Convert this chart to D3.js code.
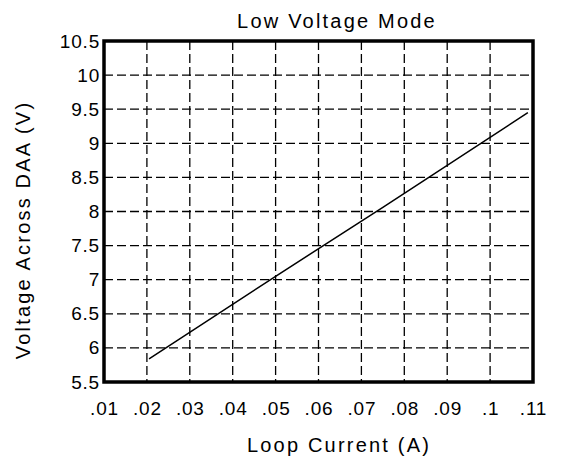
<!DOCTYPE html>
<html>
<head>
<meta charset="utf-8">
<script src="https://cdn.jsdelivr.net/npm/d3@7"></script>
<style>
  body { margin: 0; background: #fff; }
  svg text { font-family: "Liberation Sans", Arial, sans-serif; fill: #000; }
</style>
</head>
<body>
<div id="chart"></div>
<script>
  // data
  var currents = [0.0205, 0.05, 0.075, 0.1088];
  var voltages = [5.84, 7.05, 8.06, 9.45];
  var xTicks = [0.01, 0.02, 0.03, 0.04, 0.05, 0.06, 0.07, 0.08, 0.09, 0.1, 0.11];
  var xTickLabels = ['.01', '.02', '.03', '.04', '.05', '.06', '.07', '.08', '.09', '.1', '.11'];
  var yTicks = [5.5, 6, 6.5, 7, 7.5, 8, 8.5, 9, 9.5, 10, 10.5];

  var width = 579;
  var height = 461;
  var margin = { top: 41, right: 46, bottom: 79, left: 104 };
  var w = width - margin.left - margin.right;
  var h = height - margin.top - margin.bottom;

  var svg = d3.select('#chart').append('svg')
    .attr('width', width)
    .attr('height', height);

  var g = svg.append('g')
    .attr('transform', 'translate(' + margin.left + ',' + margin.top + ')');

  var x = d3.scaleLinear().domain([0.01, 0.11]).range([0, w]);
  var y = d3.scaleLinear().domain([5.5, 10.5]).range([h, 0]);

  // grid
  g.append('g')
    .selectAll('line')
    .data(xTicks.slice(1, -1))
    .enter()
    .append('line')
    .attr('x1', function (d) { return x(d); })
    .attr('x2', function (d) { return x(d); })
    .attr('y1', 0)
    .attr('y2', h)
    .attr('stroke', '#000')
    .attr('stroke-width', 1.3)
    .attr('stroke-dasharray', '9,4');

  g.append('g')
    .selectAll('line')
    .data(yTicks.slice(1, -1))
    .enter()
    .append('line')
    .attr('y1', function (d) { return y(d); })
    .attr('y2', function (d) { return y(d); })
    .attr('x1', 0)
    .attr('x2', w)
    .attr('stroke', '#000')
    .attr('stroke-width', 1.3)
    .attr('stroke-dasharray', '9,4');

  // axes (labels only)
  var xAxis = g.append('g')
    .attr('transform', 'translate(0,' + h + ')')
    .call(d3.axisBottom(x)
      .tickValues(xTicks)
      .tickFormat(function (d, i) { return xTickLabels[i]; })
      .tickSize(0)
      .tickPadding(20));
  xAxis.select('.domain').remove();
  xAxis.selectAll('text')
    .attr('font-family', null)
    .style('font-size', '19px')
    .style('letter-spacing', '0.8px');

  var yAxis = g.append('g')
    .call(d3.axisLeft(y)
      .tickValues(yTicks)
      .tickFormat(d3.format('~g'))
      .tickSize(0)
      .tickPadding(4));
  yAxis.select('.domain').remove();
  yAxis.selectAll('text')
    .attr('font-family', null)
    .style('font-size', '19px')
    .style('letter-spacing', '0.8px');

  // line
  var pts = currents.map(function (c, i) { return [c, voltages[i]]; });
  g.append('path')
    .datum(pts)
    .attr('fill', 'none')
    .attr('stroke', '#000')
    .attr('stroke-width', 1.5)
    .attr('d', d3.line()
      .x(function (d) { return x(d[0]); })
      .y(function (d) { return y(d[1]); }));

  // frame
  g.append('rect')
    .attr('width', w)
    .attr('height', h)
    .attr('fill', 'none')
    .attr('stroke', '#000')
    .attr('stroke-width', 3.5);

  // titles
  svg.append('text')
    .attr('x', 337)
    .attr('y', 28)
    .attr('text-anchor', 'middle')
    .style('font-size', '20px')
    .style('letter-spacing', '2.2px')
    .text('Low Voltage Mode');

  svg.append('text')
    .attr('x', 339)
    .attr('y', 452)
    .attr('text-anchor', 'middle')
    .style('font-size', '20px')
    .style('letter-spacing', '2.2px')
    .text('Loop Current (A)');

  svg.append('text')
    .attr('transform', 'translate(30,230) rotate(-90)')
    .attr('text-anchor', 'middle')
    .style('font-size', '20px')
    .style('letter-spacing', '2.2px')
    .text('Voltage Across DAA (V)');
</script>
</body>
</html>
